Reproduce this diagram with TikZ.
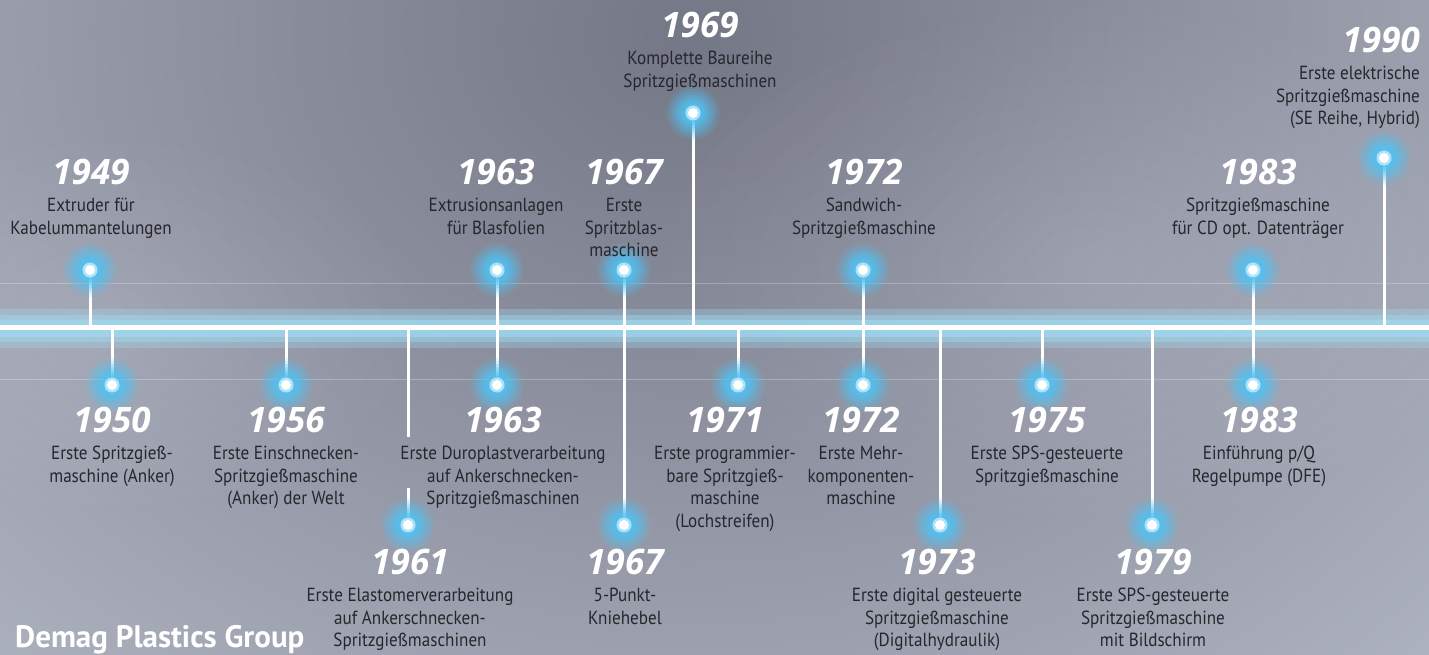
\documentclass[tikz,border=0pt]{standalone}
\usepackage{fontspec}
\setmainfont{PT Sans}
\newfontfamily\descfont{PT Sans}[FakeStretch=0.9]
\newfontfamily\yearfont{Open Sans}
\usetikzlibrary{positioning}

\definecolor{bgbase}{RGB}{178,183,196}
\definecolor{bgdark}{RGB}{116,119,134}
\definecolor{glowblue}{RGB}{80,195,245}
\definecolor{axisblue}{RGB}{160,222,246}
\definecolor{desctext}{RGB}{38,38,44}

\begin{document}
\begin{tikzpicture}[
    x=1pt, y=1pt,
    stem/.style={white, line width=3pt},
    year/.style={inner sep=0pt, text=white, font=\yearfont\bfseries\itshape\fontsize{35}{35}\selectfont},
    desc/.style={inner sep=0pt, text=desctext, align=center, font=\descfont\fontsize{19}{22.6}\selectfont}
]
\useasboundingbox (0,0) rectangle (1429,654);

% background
\fill[bgbase] (0,0) rectangle (1429,654);
\shade[inner color=bgdark, outer color=bgbase] (690,620) ellipse (1150pt and 950pt);
\foreach \s in {1,...,14}
  \fill[white, opacity=0.014] (1090,390) ellipse ({30*\s pt} and {18*\s pt});
\foreach \s in {1,...,10}
  \fill[white, opacity=0.014] (110,330) ellipse ({30*\s pt} and {18*\s pt});
\draw[white, opacity=0.25, line width=0.8pt] (0,371) -- (1429,371);
\draw[white, opacity=0.25, line width=0.8pt] (0,275) -- (1429,275);

% time axis
\coordinate (axis) at (0,326);
\coordinate (axisend) at (1429,326);
\fill[axisblue, opacity=0.3] (0,306) rectangle (1429,345);
\fill[axisblue, opacity=0.4] (0,312) rectangle (1429,339);
\fill[axisblue, opacity=0.55] (0,317) rectangle (1429,334);
\draw[white, line width=5pt] (axis) -- (axisend);

% dots above
\coordinate (d1949) at (90,384);
\coordinate (d1963a) at (497,384);
\coordinate (d1967a) at (624,384);
\coordinate (d1969) at (693,541);
\coordinate (d1972a) at (863,384);
\coordinate (d1983a) at (1253,384);
\coordinate (d1990) at (1384,496);
% dots below
\coordinate (d1950) at (112,269);
\coordinate (d1956) at (286,269);
\coordinate (d1961) at (408,129);
\coordinate (d1963b) at (497,269);
\coordinate (d1967b) at (624,129);
\coordinate (d1971) at (738,269);
\coordinate (d1972b) at (863,269);
\coordinate (d1973) at (940,129);
\coordinate (d1975) at (1042,269);
\coordinate (d1979) at (1152,129);
\coordinate (d1983b) at (1253,269);

% stems
\draw[stem] (d1949) -- (d1949 |- axis);
\draw[stem] (d1963a) -- (d1963b);
\draw[stem] (d1967a) -- (d1967b);
\draw[stem] (d1969) -- (d1969 |- axis);
\draw[stem] (d1972a) -- (d1972b);
\draw[stem] (d1983a) -- (d1983b);
\draw[stem] (d1990) -- (d1990 |- axis);
\draw[stem] (d1950) -- (d1950 |- axis);
\draw[stem] (d1956) -- (d1956 |- axis);
\draw[stem] (d1961 |- axis) -- ++(0,-109);
\draw[stem] (d1961) -- ++(0,37);
\draw[stem] (d1971) -- (d1971 |- axis);
\draw[stem] (d1973) -- (d1973 |- axis);
\draw[stem] (d1975) -- (d1975 |- axis);
\draw[stem] (d1979) -- (d1979 |- axis);

% glowing dots
\foreach \d in {d1949, d1963a, d1967a, d1969, d1972a, d1983a, d1990, d1950, d1956, d1961, d1963b, d1967b, d1971, d1972b, d1973, d1975, d1979, d1983b} {
  \foreach \r/\o in {27/0.12, 24/0.16, 21/0.2, 18/0.26, 15/0.32, 12/0.4, 9.5/0.5}
    \fill[glowblue, opacity=\o] (\d) circle (\r pt);
  \fill[white, opacity=0.55] (\d) circle (7.5pt);
  \fill[white] (\d) circle (5pt);
}

% years and texts above the axis
\node[year] (y1949) at (91,482) {1949};
\node[desc, below=13pt of y1949] (t1949) {Extruder für\\Kabelummantelungen};
\node[year] (y1963a) at (496,482) {1963};
\node[desc, below=13pt of y1963a] (t1963a) {Extrusionsanlagen\\für Blasfolien};
\node[year] (y1967a) at (624,482) {1967};
\node[desc, below=13pt of y1967a] (t1967a) {Erste\\Spritzblas-\\maschine};
\node[year] (y1969) at (700,629) {1969};
\node[desc, below=13pt of y1969] (t1969) {Komplette Baureihe\\Spritzgießmaschinen};
\node[year] (y1972a) at (864,482) {1972};
\node[desc, below=13pt of y1972a] (t1972a) {Sandwich-\\Spritzgießmaschine};
\node[year] (y1983a) at (1258,482) {1983};
\node[desc, below=13pt of y1983a] (t1983a) {Spritzgießmaschine\\für CD opt. Datenträger};
\node[year, anchor=east] (y1990) at (1420,614) {1990};
\node[desc, align=right, below=13pt of y1990.south east, anchor=north east] (t1990) {Erste elektrische\\Spritzgießmaschine\\(SE Reihe, Hybrid)};

% years and texts below the axis
\node[year] (y1950) at (112,234) {1950};
\node[desc, below=13pt of y1950] (t1950) {Erste Spritzgieß-\\maschine (Anker)};
\node[year] (y1956) at (286,234) {1956};
\node[desc, below=13pt of y1956] (t1956) {Erste Einschnecken-\\Spritzgießmaschine\\(Anker) der Welt};
\node[year] (y1961) at (410,92) {1961};
\node[desc, below=13pt of y1961] (t1961) {Erste Elastomerverarbeitung\\auf Ankerschnecken-\\Spritzgießmaschinen};
\node[year] (y1963b) at (503,234) {1963};
\node[desc, below=13pt of y1963b] (t1963b) {Erste Duroplastverarbeitung\\auf Ankerschnecken-\\Spritzgießmaschinen};
\node[year] (y1967b) at (625,92) {1967};
\node[desc, below=13pt of y1967b] (t1967b) {5-Punkt-\\Kniehebel};
\node[year] (y1971) at (725,234) {1971};
\node[desc, below=13pt of y1971] (t1971) {Erste programmier-\\bare Spritzgieß-\\maschine\\(Lochstreifen)};
\node[year] (y1972b) at (861,234) {1972};
\node[desc, below=13pt of y1972b] (t1972b) {Erste Mehr-\\komponenten-\\maschine};
\node[year] (y1973) at (937,92) {1973};
\node[desc, below=13pt of y1973] (t1973) {Erste digital gesteuerte\\Spritzgießmaschine\\(Digitalhydraulik)};
\node[year] (y1975) at (1047,234) {1975};
\node[desc, below=13pt of y1975] (t1975) {Erste SPS-gesteuerte\\Spritzgießmaschine};
\node[year] (y1979) at (1153,92) {1979};
\node[desc, below=13pt of y1979] (t1979) {Erste SPS-gesteuerte\\Spritzgießmaschine\\mit Bildschirm};
\node[year] (y1983b) at (1259,234) {1983};
\node[desc, below=13pt of y1983b] (t1983b) {Einführung p/Q\\Regelpumpe (DFE)};

\node[anchor=base west, inner sep=0pt, text=white, font=\bfseries\fontsize{31}{31}\selectfont] (brand) at (15,7) {Demag Plastics Group};

\end{tikzpicture}
\end{document}
